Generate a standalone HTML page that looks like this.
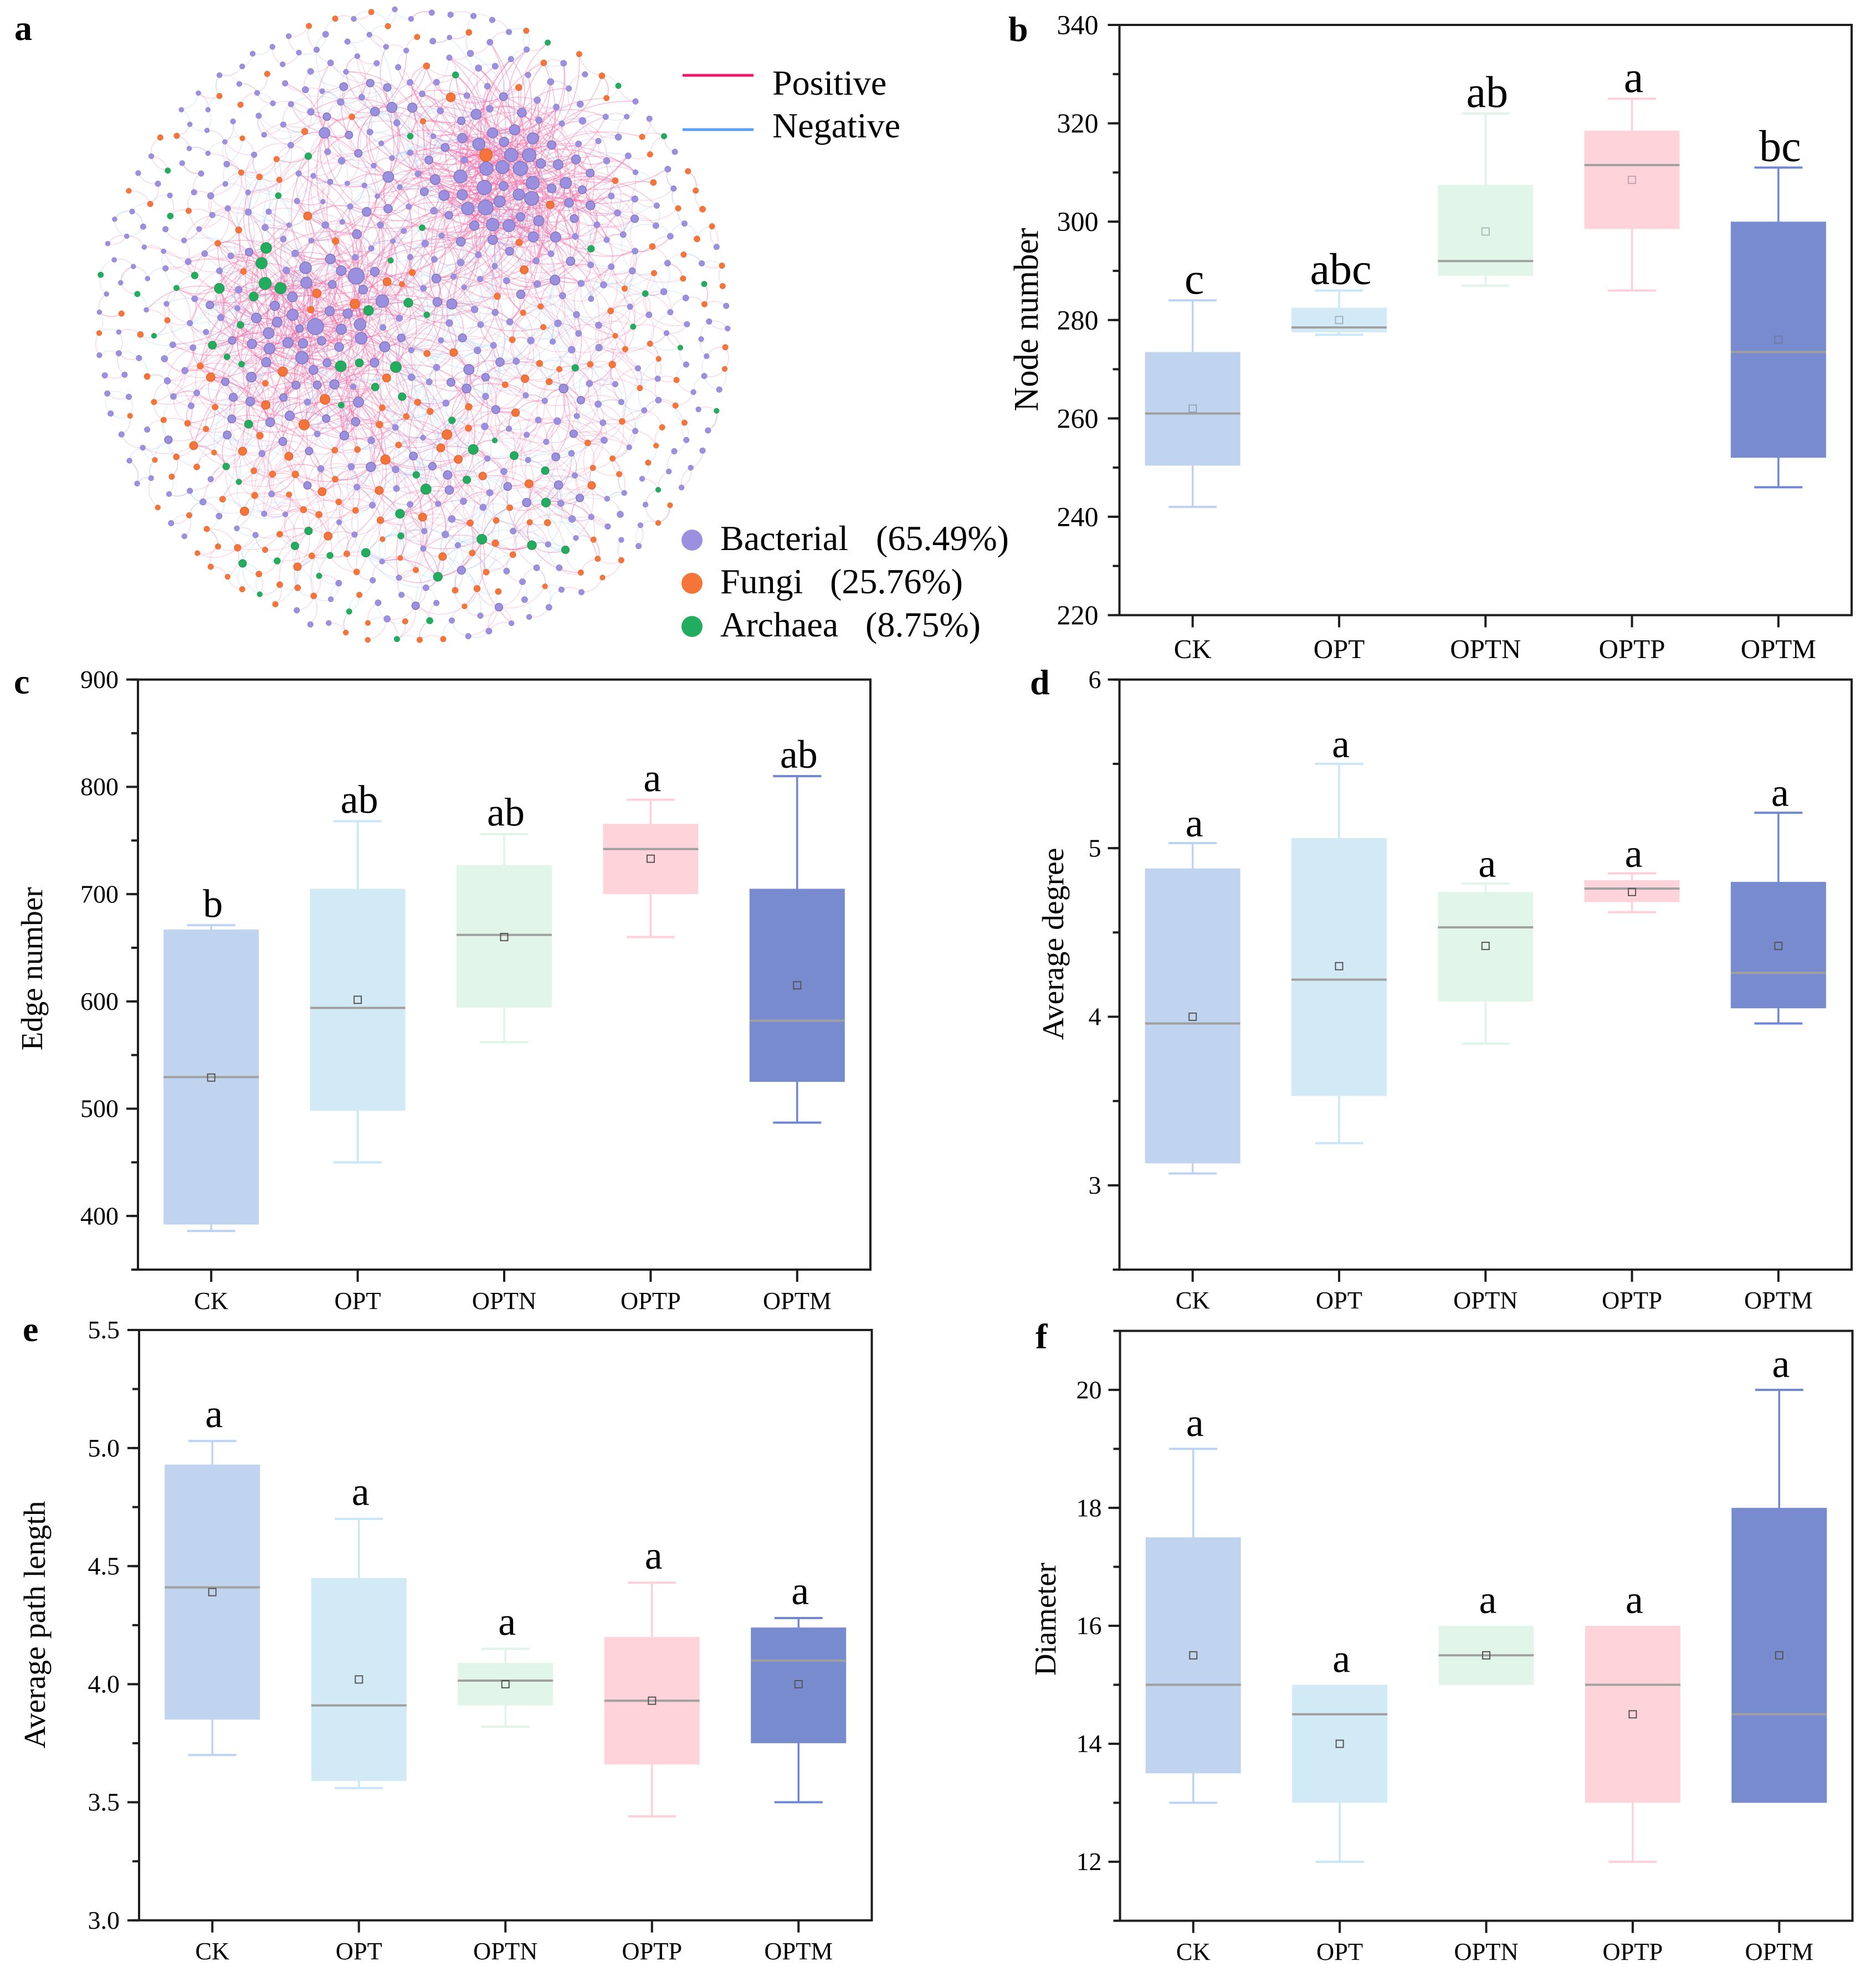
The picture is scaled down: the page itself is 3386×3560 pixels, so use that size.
<!DOCTYPE html>
<html lang="en">
<head>
<meta charset="utf-8">
<title>Network analysis and topological properties</title>
<style>
html,body{margin:0;padding:0;background:#fff;}
svg{display:block;}
text{font-family:"Liberation Serif","Times New Roman",serif;fill:#000;}
</style>
</head>
<body>
<svg id="figure" xmlns="http://www.w3.org/2000/svg" width="3386" height="3560" viewBox="0 0 3386 3560">
<rect x="0" y="0" width="3386" height="3560" fill="#ffffff"/>
<g id="network"></g>
<g id="charts"></g>

<text x="26" y="72" font-size="64" font-weight="700">a</text>
<text x="1820" y="74" font-size="64" font-weight="700">b</text>
<text x="25" y="1252" font-size="64" font-weight="700">c</text>
<text x="1859" y="1253" font-size="64" font-weight="700">d</text>
<text x="41" y="2421" font-size="64" font-weight="700">e</text>
<text x="1869" y="2434" font-size="64" font-weight="700">f</text>

<g>
<line x1="1232" y1="136" x2="1360" y2="136" stroke="#f0186c" stroke-width="5"/>
<text x="1394" y="171" font-size="64">Positive</text>
<line x1="1232" y1="234" x2="1360" y2="234" stroke="#5ba0f5" stroke-width="5"/>
<text x="1394" y="248" font-size="64">Negative</text>
</g>
<g>
<circle cx="1249" cy="975" r="19" fill="#9b90e0"/>
<text x="1300" y="993" font-size="64">Bacterial</text>
<text x="1581" y="993" font-size="64">(65.49%)</text>
<circle cx="1249" cy="1053" r="19" fill="#f5743a"/>
<text x="1300" y="1071" font-size="64">Fungi</text>
<text x="1498" y="1071" font-size="64">(25.76%)</text>
<circle cx="1249" cy="1131" r="19" fill="#22ac5e"/>
<text x="1300" y="1149" font-size="64">Archaea</text>
<text x="1562" y="1149" font-size="64">(8.75%)</text>
</g>
</svg>

<script>
/* ---------- box-plot data ---------- */
const categories = ["CK","OPT","OPTN","OPTP","OPTM"];

const bTicks = [220,240,260,280,300,320,340];
const bLow  = [242,277,287,286,246];
const bQ1   = [250.4,277.5,289,298.5,252];
const bMed  = [261,278.5,292,311.5,273.5];
const bMean = [262,280,298,308.5,276];
const bQ3   = [273.5,282.5,307.5,318.5,300];
const bHigh = [284,286,322,325,311];
const bLetters = ["c","abc","ab","a","bc"];

const cTicks = [400,500,600,700,800,900];
const cLow  = [386,450,562,660,487];
const cQ1   = [392,498,594,700,525];
const cMed  = [529.5,594,662,742,582];
const cMean = [529,601.5,660,733,615];
const cQ3   = [667,705,727,765.5,705];
const cHigh = [671,768,756,788,810];
const cLetters = ["b","ab","ab","a","ab"];

const dTicks = [3,4,5,6];
const dLow  = [3.07,3.25,3.84,4.62,3.96];
const dQ1   = [3.13,3.53,4.09,4.68,4.05];
const dMed  = [3.96,4.22,4.53,4.76,4.26];
const dMean = [4.0,4.3,4.42,4.74,4.42];
const dQ3   = [4.88,5.06,4.74,4.81,4.80];
const dHigh = [5.03,5.5,4.79,4.85,5.21];
const dLetters = ["a","a","a","a","a"];

const eTicks = ["3.0","3.5","4.0","4.5","5.0","5.5"];
const eLow  = [3.70,3.56,3.82,3.44,3.50];
const eQ1   = [3.85,3.59,3.91,3.66,3.75];
const eMed  = [4.41,3.91,4.015,3.93,4.10];
const eMean = [4.39,4.02,4.0,3.93,4.0];
const eQ3   = [4.93,4.45,4.09,4.20,4.24];
const eHigh = [5.03,4.70,4.15,4.43,4.28];
const eLetters = ["a","a","a","a","a"];

const fTicks = [12,14,16,18,20];
const fLow  = [13,12,15,12,13];
const fQ1   = [13.5,13,15,13,13];
const fMed  = [15,14.5,15.5,15,14.5];
const fMean = [15.5,14,15.5,14.5,15.5];
const fQ3   = [17.5,15,16,16,18];
const fHigh = [19,15,16,16,20];
const fLetters = ["a","a","a","a","a"];

/* ---------- network nodes: flat x,y,r triples in crop units ---------- */
const q1Bacterial = [1442,18,12,1245,64,12,1520,64,12,1110,138,14,1320,140,12,933,147,12,1215,173,13,855,198,12,1400,198,12,1067,212,13,982,226,12,1497,216,12,760,231,12,1262,243,12,710,292,12,1134,275,14,1355,277,13,904,282,12,1458,296,13,1038,316,14,1208,318,12,601,334,12,696,376,12,916,373,13,1197,389,18,1324,372,17,1515,369,14,1406,393,17,1013,404,15,1094,411,12,782,419,12,500,420,11,1283,440,14,1182,463,16,857,469,12,944,473,13,418,500,11,546,500,11,1428,489,23,1526,490,21,1347,509,20,1039,510,16,789,529,13,1116,533,17,666,556,12,1452,563,15,459,570,11,907,571,13,541,599,11,1105,611,24,1222,621,17,1323,607,14,815,620,12,627,654,11,1377,661,12,943,670,14,456,686,11,546,709,11,1120,702,14,1267,709,17,1515,706,13,767,716,13,274,723,12,1428,732,12,1187,745,16,422,756,12,636,761,14,1341,768,12,513,806,13,981,806,13,1051,817,12,211,804,12,1411,822,24,1553,808,14,306,855,13,1132,846,13,1214,853,11,629,856,12,1296,863,12,1466,871,12,479,896,13,738,897,12,363,911,12,559,913,15,1358,915,11,973,938,13,1097,941,11,1228,964,13,1509,965,13,641,973,13,182,988,12,1410,975,19,739,991,15,837,989,13,1307,990,20,567,1005,13,98,1025,11,1190,1038,12,935,1053,11,235,1061,13,1109,1053,16,1373,1053,15,820,1065,15,342,1073,13,503,1072,12,1485,1081,13,156,1107,11,1260,1097,20,907,1120,14,431,1127,12,1041,1128,12,1433,1130,11,65,1142,11,240,1159,11,1329,1165,13,333,1179,11,743,1183,17,964,1189,16,530,1190,14,655,1201,14,1133,1216,22,1252,1208,14,96,1220,11,1516,1207,13,451,1229,14,188,1252,11,342,1261,13,922,1271,16,1014,1258,26,1185,1272,22,1257,1298,36,1346,1277,20,601,1273,14,256,1310,11,127,1330,11,1018,1330,25,1142,1338,18,693,1363,16,1290,1363,20,59,1384,11,951,1398,22,1382,1418,28,482,1407,14,347,1431,12,555,1437,17,867,1441,21,687,1452,12,250,1460,11,1130,1466,21,25,1471,11,952,1484,25,1216,1478,21,778,1499,22,607,1497,15,1464,1500,15,459,1524,13,878,1519,22,1275,1530,26,1061,1540,36];
const q1Fungi = [1329,31,13,1156,63,13,1030,98,13,1409,99,13,1549,151,13,830,328,13,601,434,13,702,476,13,1236,534,14,1010,604,15,317,633,13,396,625,13,711,637,12,875,737,13,705,801,13,793,822,14,888,836,13,166,889,12,269,952,13,453,985,13,1024,1010,18,693,1077,15,593,1141,14,1158,1130,16,716,1276,14,1526,1281,15,1405,1325,18,1476,1337,13,1068,1381,19,1251,1432,21,1039,1459,16,131,1478,13,351,1510,13];
const q1Archaea = [1516,627,14,1027,723,16,353,792,13,883,912,14,365,1010,14,825,1163,24,803,1236,25,1422,1223,13,482,1295,16,31,1292,13,820,1333,27,894,1356,25,395,1355,13,600,1357,22,207,1384,13,765,1396,20,1507,1426,20,1316,1463,22,702,1532,16];

const q2Bacterial = [78,34,13,168,44,13,278,50,13,368,69,13,448,127,13,163,153,11,83,171,14,357,176,14,533,211,13,263,230,15,162,250,13,458,257,13,710,277,14,302,300,15,382,291,14,540,333,13,813,330,13,648,366,15,101,368,14,345,387,14,735,398,13,32,424,14,246,432,14,422,437,18,584,454,15,1055,460,13,790,473,15,675,487,14,119,505,15,291,522,23,356,495,16,510,514,20,1013,533,12,912,534,13,1122,543,13,219,553,17,801,553,16,592,550,15,702,566,13,370,611,23,475,596,23,85,627,12,224,636,21,973,631,15,877,650,13,563,637,25,304,665,27,425,654,21,653,669,19,782,664,14,142,681,18,1244,702,13,1020,721,14,459,717,30,545,718,30,234,741,15,64,741,18,770,738,20,917,745,15,601,758,21,684,763,22,340,782,30,417,775,29,503,782,32,1210,785,14,1055,800,12,838,804,18,215,820,29,94,835,22,562,851,29,721,851,25,1238,878,13,330,873,32,422,866,20,653,877,20,800,884,18,42,893,18,137,911,23,224,908,23,495,907,25,939,914,14,557,925,31,1052,928,15,403,940,25,736,946,20,1157,960,13,839,959,20,251,974,28,336,969,33,88,985,16,160,1006,17,969,995,15,504,1014,19,1051,1023,17,761,1022,18,1290,1046,13,591,1033,23,282,1056,21,370,1051,28,448,1056,27,870,1052,14,1153,1056,14,125,1104,13,766,1108,14,996,1099,14,565,1110,23,1222,1107,14,672,1111,23,217,1133,20,370,1124,21,46,1142,16,917,1124,13,1444,1158,13,451,1179,18,1053,1178,14,650,1191,14,301,1196,14,90,1218,14,578,1225,15,217,1233,16,744,1227,19,1209,1236,14,1373,1237,13,840,1244,14,939,1253,14,380,1250,13,1040,1273,15,100,1310,20,182,1300,13,310,1312,13,437,1320,15,669,1317,22,584,1336,16,794,1333,15,902,1340,15,38,1357,14,233,1352,12,1191,1373,15,505,1386,19,705,1392,15,842,1407,13,1296,1403,14,105,1422,20,174,1432,23,1490,1441,13,1029,1445,13,283,1458,16,382,1472,15,1222,1471,13,772,1483,15,1120,1484,14,1408,1516,13,162,1523,16,452,1518,15,312,1531,14,683,1525,16,878,1534,15,1302,1529,13];
const q2Fungi = [531,121,13,256,129,14,785,233,13,615,275,14,53,290,15,894,337,14,495,393,15,169,440,20,916,444,13,36,555,13,1087,630,13,1125,714,13,338,717,28,1307,795,13,958,840,14,1141,849,14,1344,888,13,646,956,17,1260,973,13,1377,977,14,1422,1059,13,1350,1120,14,497,1137,16,1136,1156,14,1286,1195,13,1470,1248,13,521,1268,18,1144,1284,13,1283,1310,13,1473,1346,13,1003,1358,13,392,1395,15,1386,1433,13,600,1444,13,936,1465,14,516,1474,13,613,1543,13];
const q2Archaea = [634,178,13,192,333,15,973,385,13,1192,627,13,32,1066,14,842,1167,16,1385,1336,13,1102,1382,14,54,1484,14,1044,1541,13];

const q3Bacterial = [118,25,11,536,25,13,837,30,24,985,8,17,1185,12,23,1385,3,14,662,65,17,377,86,14,474,100,14,757,82,21,930,76,23,1002,80,21,1091,67,19,1281,55,26,1473,53,17,841,105,24,1175,97,20,1394,96,23,25,136,12,118,127,13,215,150,13,337,153,15,997,148,28,1521,112,13,825,170,21,1117,173,18,1345,172,20,435,210,15,1052,207,20,51,233,13,146,230,13,754,241,22,629,264,17,351,259,15,1522,242,16,968,280,18,1070,279,18,1152,276,21,1243,287,13,63,320,13,166,336,13,492,317,14,380,334,14,667,338,18,908,339,17,749,358,20,1023,361,15,1268,361,23,465,379,14,79,416,13,938,427,21,660,442,18,1113,440,17,844,458,20,1254,455,19,1445,483,14,254,493,13,131,516,13,638,519,18,1070,514,14,1200,522,20,356,542,17,1329,545,16,905,550,18,233,580,12,1031,596,17,805,608,15,1531,620,18,169,642,12,1233,671,15,1327,672,21,1087,681,15,1446,684,16,273,726,12,559,731,13,1023,761,17,206,752,12,1260,769,14,1450,776,14,459,787,13,851,802,14,359,802,12,522,840,15,1334,856,14,1515,852,14,815,897,13,917,900,12,599,908,14,1175,938,12,369,942,13,684,967,12,774,999,13,1249,997,13,433,1005,12,1381,1126,12,1462,1204,13,1336,1216,13,1173,1230,14,1474,1286,13,1362,1324,14,1135,1307,12,972,1360,13,1542,1338,17,1405,1401,15,1125,1421,12,1037,1428,13];
const q3Fungi = [24,30,12,222,37,14,509,188,15,254,238,14,559,242,19,905,215,21,1403,245,18,821,271,14,287,361,13,580,385,14,1107,348,22,823,375,19,1552,362,15,1382,388,14,172,427,12,1497,430,14,333,447,13,448,463,14,1007,470,23,1369,469,16,536,490,13,795,522,16,477,570,18,1460,567,14,575,603,12,712,597,18,1154,592,14,1263,589,14,394,624,14,934,621,18,291,639,12,1397,637,21,492,672,14,766,691,14,855,707,15,965,708,16,372,719,13,1156,731,14,1093,791,18,1367,785,18,770,809,15,935,805,13,616,827,14,1173,840,14,305,867,12,721,885,19,1004,877,15,1254,881,14,456,904,13,1078,901,15,1373,928,16,540,970,13,890,995,14,1122,1004,18,1383,1019,12,594,1054,13,688,1060,16,820,1070,13,1212,1089,14,495,1086,12,1044,1099,14,1468,1109,12,559,1151,13,975,1151,17,1543,1167,13,1259,1176,14,790,1186,14,640,1199,12,890,1237,14,976,1252,14,710,1259,13,1053,1291,14,1272,1286,13,869,1331,13,1492,1413,13,1313,1421,12,1207,1467,12,1312,1502,12];
const q3Archaea = [287,43,12,567,88,18,637,144,14,707,179,14,1183,189,24,1272,173,18,1447,193,24,1348,289,17,1477,335,17,1185,376,14,741,467,18,633,670,16,1545,710,16,694,744,13,1028,979,17,1471,1003,15,963,1051,17,1467,897,20,1303,1084,19,1131,1097,15,878,1123,15,712,1135,17,1079,1195,13,794,1283,12,1223,1366,13,1452,1498,13];

const q4Bacterial = [1204,30,12,1370,59,12,1497,8,12,782,32,14,225,53,18,122,65,13,553,66,16,658,71,13,374,89,14,880,100,16,297,113,16,749,110,16,1396,141,12,405,169,19,483,165,15,101,195,15,1298,181,13,256,205,23,1067,199,13,1385,236,13,336,242,17,1162,249,13,66,264,14,170,266,18,834,272,15,958,275,13,245,296,20,710,296,20,1457,301,13,529,329,13,1333,313,12,336,334,15,620,355,13,793,352,17,146,366,15,1165,352,14,876,371,15,987,361,13,1357,396,12,385,397,18,1097,401,13,680,452,16,589,447,14,774,428,13,899,460,14,332,478,16,448,489,13,1403,497,13,1054,500,13,36,532,12,533,518,13,758,513,17,1299,543,13,905,544,15,627,552,13,1025,578,12,1377,594,13,1241,597,13,748,607,14,673,624,18,345,632,13,540,639,13,1320,676,12,1215,694,12,81,669,17,424,694,15,154,711,19,764,713,13,1087,729,12,442,766,18,686,759,19,162,783,19,1276,771,12,1001,797,12,356,796,15,788,821,17,919,825,12,230,837,15,533,843,19,697,847,15,108,849,13,1103,853,12,324,866,15,982,900,15,174,922,16,843,912,13,751,922,16,922,958,13,1079,952,12,42,980,13,468,980,14,143,996,16,769,1013,12,987,1022,12,203,1048,13,1070,1052,13,37,1064,13,636,1044,13,581,1156,14,689,1156,14,220,1168,18,437,1172,14,513,1223,14,50,1252,14,700,1261,13,796,1273,13,523,1309,14,100,1325,13,400,1345,17,640,1346,14,311,1386,13,545,1392,12,174,1409,13,460,1422,12,352,1460,14,253,1484,13];
const q4Fungi = [958,43,12,464,62,14,1125,81,13,1006,107,13,1486,98,13,55,128,15,183,123,17,1166,154,12,595,176,15,944,181,16,690,203,13,838,180,14,1483,202,12,525,249,17,641,263,15,1252,255,13,430,278,14,1076,294,13,255,384,16,1247,378,13,70,406,15,480,412,17,991,454,14,1290,460,13,254,486,15,1183,482,13,151,517,22,826,557,14,1154,570,12,121,581,18,945,632,13,205,636,18,1116,652,13,851,677,13,977,707,13,322,716,17,544,753,18,845,761,17,452,868,14,34,913,18,1221,856,12,387,929,14,262,941,15,548,938,13,633,940,15,1164,941,12,854,1021,13,383,1038,16,272,1085,14,467,1093,14,130,1102,17,874,1113,13,987,1120,13,339,1177,14,793,1179,13,897,1203,12,621,1245,12,190,1264,14,295,1256,15,397,1270,14,235,1341,12,133,1498,13,20,1502,13];
const q4Archaea = [1270,100,12,766,197,16,175,449,16,1444,403,12,380,545,12,277,588,22,473,618,18,622,690,17,246,734,17,50,779,23,1164,782,12,626,843,20,318,1019,22,558,1048,20,719,1070,17,107,1199,20,68,1410,15];

/* ---------- helpers ---------- */
const SVGNS = "http://www.w3.org/2000/svg";
function make(parent, tag, attrs, txt){
  const el = document.createElementNS(SVGNS, tag);
  for (const k in attrs) el.setAttribute(k, attrs[k]);
  if (txt !== undefined) el.textContent = txt;
  parent.appendChild(el);
  return el;
}

/* ---------- network ---------- */
const CROP_SCALE = 1568 / 590;
const nodes = [];
function addNodes(list, ox, oy, kind){
  for (let i = 0; i < list.length; i += 3) {
    nodes.push({x: ox + list[i] / CROP_SCALE, y: oy + list[i+1] / CROP_SCALE, zr: list[i+2], r: list[i+2] / CROP_SCALE, kind: kind});
  }
}
addNodes(q1Bacterial,170,10,"bacterial"); addNodes(q1Fungi,170,10,"fungi"); addNodes(q1Archaea,170,10,"archaea");
addNodes(q2Bacterial,750,10,"bacterial"); addNodes(q2Fungi,750,10,"fungi"); addNodes(q2Archaea,750,10,"archaea");
addNodes(q3Bacterial,170,590,"bacterial"); addNodes(q3Fungi,170,590,"fungi"); addNodes(q3Archaea,170,590,"archaea");
addNodes(q4Bacterial,750,590,"bacterial"); addNodes(q4Fungi,750,590,"fungi"); addNodes(q4Archaea,750,590,"archaea");

const netRoot = document.getElementById("network");
const edgeLayer = make(netRoot, "g", {fill:"none", "stroke-width":"1.6"});


const nodeLayer = make(netRoot, "g", {});



/* Individual edges cannot be read from the picture; links follow each node's
   neighbours by distance, with more links for larger nodes and fewer at the rim. */
const NET_CX = 755, NET_CY = 590, NET_R = 575;
nodes.forEach(function(n, i){
  const order = nodes.map(function(m, j){
    return {j: j, d: (m.x-n.x)*(m.x-n.x) + (m.y-n.y)*(m.y-n.y)};
  }).filter(function(o){ return o.j !== i; }).sort(function(a, b){ return a.d - b.d; });
  const radial = Math.hypot(n.x - NET_CX, n.y - NET_CY) / NET_R;
  let k = Math.round(1 + (n.zr - 11) * 0.9) + (radial < 0.75 ? 2 : 0);
  if (radial > 0.8 && n.zr < 16) k = (i % 3 === 0) ? 2 : 1;
  for (let p = 0; p < k; p++) {
    const rank = p + Math.floor(p * p / 3) + (radial > 0.8 ? i % 3 : 0);
    if (rank >= order.length) break;
    const m = nodes[order[rank].j];
    const dx = m.x - n.x, dy = m.y - n.y;
    const sign = (i + p) % 2 ? 1 : -1;
    const bend = radial > 0.8 ? 0.34 : 0.28;
    const cx = (n.x + m.x) / 2 - dy * bend * sign;
    const cy = (n.y + m.y) / 2 + dx * bend * sign;
    const negative = (n.zr >= 20) ? ((i * 5 + p) % 7 === 0) : ((i * 7 + p * 3) % 3 === 0);
    const edge = make(edgeLayer, "path", {
      d: "M" + n.x.toFixed(1) + " " + n.y.toFixed(1) + "Q" + cx.toFixed(1) + " " + cy.toFixed(1) + " " + m.x.toFixed(1) + " " + m.y.toFixed(1),
      stroke: negative ? "#9cc8fa" : "#f06ca4",
      "stroke-opacity": negative ? "0.3" : (n.zr >= 20 ? "0.42" : "0.26")
    });
    
    
  }
});

const nodeFill = {bacterial:"#9b90e0", fungi:"#f5743a", archaea:"#22ac5e"};
const nodeStroke = {bacterial:"#7b72b8", fungi:"#d8692f", archaea:"#2a9a5a"};
nodes.forEach(function(n){
  const dot = make(nodeLayer, "circle", {
    cx: n.x.toFixed(1), cy: n.y.toFixed(1), r: (n.r * 1.08).toFixed(1),
    fill: nodeFill[n.kind], stroke: nodeStroke[n.kind],
    "stroke-width": n.zr > 16 ? "1.3" : "0.5"
  });
  
  
});

/* ---------- box plots ---------- */
const boxFill = ["#c0d4f0","#d2e9f6","#e1f6e9","#ffd3da","#788bce"];
const whiskerStroke = ["#bcd3f5","#c9e7f8","#def5e8","#ffd0d8","#6f87d2"];

function drawPanel(p){
  const root = document.getElementById("charts");
  const g = make(root, "g", {});
  
  

  const yScale = function(v){ return p.bottom - (v - p.yMin) / (p.yMax - p.yMin) * (p.bottom - p.top); };
  const band = (p.right - p.left) / categories.length;
  const xScale = function(i){ return p.left + (i + 0.5) * band; };

  const frame = make(g, "rect", {x:p.left, y:p.top, width:p.right-p.left, height:p.bottom-p.top, fill:"none", stroke:"#1e1e1e", "stroke-width":"4"});
  
  

  /* minor y ticks */
  for (let v = p.yMin; v <= p.yMax + 1e-9; v += p.minorStep) {
    const minor = make(g, "line", {x1:p.left-12, x2:p.left, y1:yScale(v), y2:yScale(v), stroke:"#1e1e1e", "stroke-width":"4"});
    
    
  }
  /* major y ticks */
  p.ticks.forEach(function(t){
    const y = yScale(Number(t));
    const tick = make(g, "line", {x1:p.left-21, x2:p.left, y1:y, y2:y, stroke:"#1e1e1e", "stroke-width":"4"});
    
    
    const label = make(g, "text", {x:p.left-p.tickGap, y:y+p.tickFont*0.33, "font-size":p.tickFont, "text-anchor":"end"}, String(t));
    
    
  });

  const title = make(g, "text", {
    x:0, y:0, "font-size":p.titleFont, "text-anchor":"middle",
    textLength:p.titleLen, lengthAdjust:"spacingAndGlyphs",
    transform:"translate(" + p.titleX + "," + p.titleY + ") rotate(-90)"
  }, p.title);
  
  

  categories.forEach(function(cat, i){
    const cx = xScale(i);
    const halfBox = 86, halfCap = 43.5;
    const yLow = yScale(p.low[i]), yQ1 = yScale(p.q1[i]), yMed = yScale(p.med[i]);
    const yMean = yScale(p.mean[i]), yQ3 = yScale(p.q3[i]), yHigh = yScale(p.high[i]);

    const xTick = make(g, "line", {x1:cx, x2:cx, y1:p.bottom, y2:p.bottom+22, stroke:"#1e1e1e", "stroke-width":"4"});
    
    
    const xLabel = make(g, "text", {x:cx, y:p.catY, "font-size":p.catFont, "text-anchor":"middle"}, cat);
    
    

    const whisker = make(g, "line", {x1:cx, x2:cx, y1:yLow, y2:yHigh, stroke:whiskerStroke[i], "stroke-width":"3.5"});
    
    
    if (p.high[i] !== p.q3[i]) {
      const capHigh = make(g, "line", {x1:cx-halfCap, x2:cx+halfCap, y1:yHigh, y2:yHigh, stroke:whiskerStroke[i], "stroke-width":"4"});
      
      
    }
    if (p.low[i] !== p.q1[i]) {
      const capLow = make(g, "line", {x1:cx-halfCap, x2:cx+halfCap, y1:yLow, y2:yLow, stroke:whiskerStroke[i], "stroke-width":"4"});
      
      
    }

    const box = make(g, "rect", {x:cx-halfBox, y:yQ3, width:halfBox*2, height:yQ1-yQ3, fill:boxFill[i]});
    
    
    const median = make(g, "line", {x1:cx-halfBox, x2:cx+halfBox, y1:yMed, y2:yMed, stroke:"#a0a09e", "stroke-width":"4"});
    
    
    const mean = make(g, "rect", {x:cx-6.5, y:yMean-6.5, width:13, height:13, fill:"none", stroke:p.meanStroke, "stroke-width":"2"});
    
    

    const sig = make(g, "text", {x:cx+3, y:yHigh-p.letterGap, "font-size":p.letterFont, "text-anchor":"middle"}, p.letters[i]);
    
    
  });
}

drawPanel({id:"b", left:2020.5, right:3342, top:45, bottom:1110.5, yMin:220, yMax:340, minorStep:10,
  ticks:bTicks, low:bLow, q1:bQ1, med:bMed, mean:bMean, q3:bQ3, high:bHigh, letters:bLetters,
  tickFont:50, tickGap:38, catFont:49, catY:1188, title:"Node number", titleFont:62, titleLen:331, titleX:1873, titleY:577,
  letterFont:80, letterGap:12, meanStroke:"rgba(90,100,110,0.4)"});

drawPanel({id:"c", left:249, right:1571, top:1226.8, bottom:2292, yMin:350, yMax:900, minorStep:50,
  ticks:cTicks, low:cLow, q1:cQ1, med:cMed, mean:cMean, q3:cQ3, high:cHigh, letters:cLetters,
  tickFont:46, tickGap:35, catFont:44.5, catY:2363, title:"Edge number", titleFont:55, titleLen:295, titleX:76, titleY:1749,
  letterFont:72, letterGap:15, meanStroke:"#555555"});

drawPanel({id:"d", left:2020.5, right:3342, top:1226.8, bottom:2292, yMin:2.5, yMax:6, minorStep:0.5,
  ticks:dTicks, low:dLow, q1:dQ1, med:dMed, mean:dMean, q3:dQ3, high:dHigh, letters:dLetters,
  tickFont:46, tickGap:33, catFont:44.5, catY:2362, title:"Average degree", titleFont:55, titleLen:347, titleX:1919, titleY:1704,
  letterFont:72, letterGap:12, meanStroke:"#555555"});

drawPanel({id:"e", left:251, right:1573.5, top:2401, bottom:3466.7, yMin:3, yMax:5.5, minorStep:0.25,
  ticks:eTicks, low:eLow, q1:eQ1, med:eMed, mean:eMean, q3:eQ3, high:eHigh, letters:eLetters,
  tickFont:46, tickGap:35, catFont:44.5, catY:3537, title:"Average path length", titleFont:55, titleLen:447, titleX:81, titleY:2933,
  letterFont:72, letterGap:25, meanStroke:"#555555"});

drawPanel({id:"f", left:2021.5, right:3343.5, top:2402.6, bottom:3467.5, yMin:11, yMax:21, minorStep:1,
  ticks:fTicks, low:fLow, q1:fQ1, med:fMed, mean:fMean, q3:fQ3, high:fHigh, letters:fLetters,
  tickFont:46, tickGap:33, catFont:44.5, catY:3538, title:"Diameter", titleFont:55, titleLen:204, titleX:1905, titleY:2923,
  letterFont:72, letterGap:23, meanStroke:"#555555"});
</script>
</body>
</html>
